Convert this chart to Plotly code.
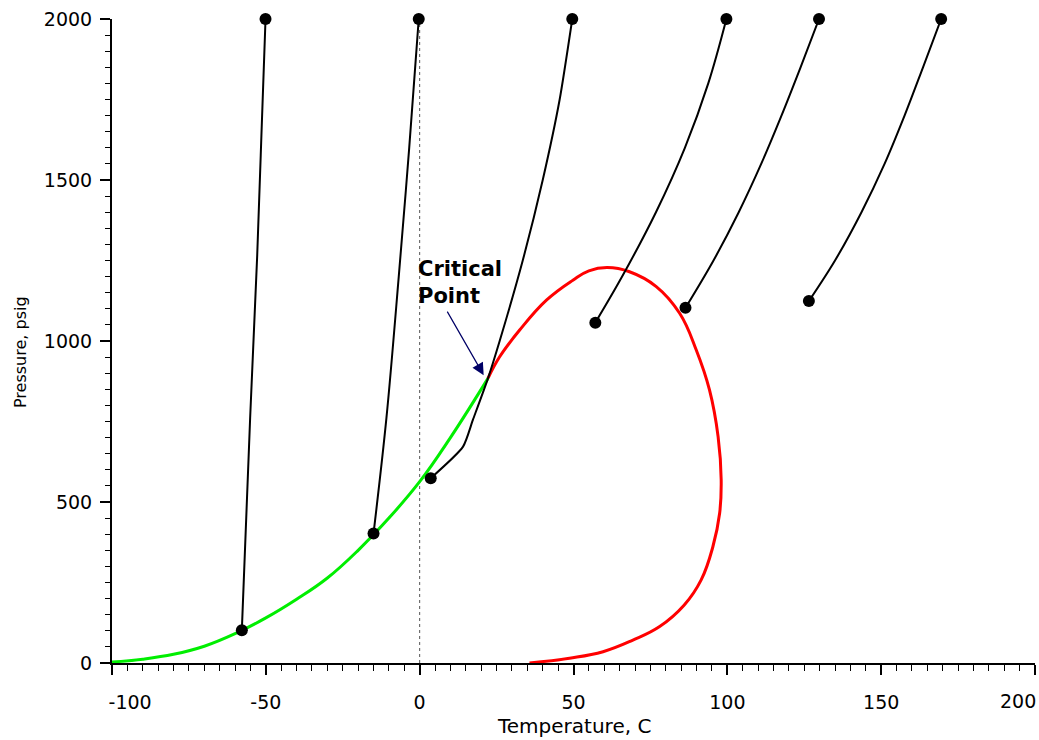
import plotly.graph_objects as go

# ---- data (Temperature C, Pressure psig) ----
bubble_T = [-100, -90, -80, -70, -60, -50, -40, -30, -20, -10, 0, 10, 22.2]
bubble_P = [3, 12, 27, 52, 91, 140, 198, 264, 350, 450, 563, 700, 884]

dew_T = [22.2, 26, 32.5, 41.2, 49.8, 55, 61.0, 68.2, 76.9, 84.5, 89.9, 94.2, 97.0,
         98.0, 97.5, 95.3, 91.5, 86.0, 78.0, 69.3, 59.6, 48.7, 35.7]
dew_P = [884, 951, 1034, 1127, 1189, 1218, 1228, 1215, 1169, 1086, 972, 848, 703,
         568, 465, 361, 258, 180, 113, 71, 35, 15, 0]

line1_T = [-57.8, -55.1, -52.8, -51.4, -50.1]
line1_P = [102, 761, 1267, 1649, 2000]
line2_T = [-15.0, -10.8, -6.8, -3.4, -0.3]
line2_P = [402, 761, 1200, 1600, 2000]
line3_T = [3.6, 14.1, 17.3, 22.2, 26.0, 33.5, 40.0, 45.5, 49.6]
line3_P = [574, 672, 755, 884, 1000, 1250, 1500, 1750, 2000]
line4_T = [57.1, 65.8, 76.8, 86.2, 93.8, 99.7]
line4_P = [1057, 1200, 1400, 1600, 1800, 2000]
line5_T = [86.4, 95.5, 103.7, 111.0, 117.6, 123.8, 129.8]
line5_P = [1103, 1250, 1400, 1550, 1700, 1850, 2000]
line6_T = [126.5, 135.0, 143.6, 151.1, 157.6, 163.6, 169.5]
line6_P = [1124, 1250, 1400, 1550, 1700, 1850, 2000]

x_tick_vals = [-100, -50, 0, 50, 100, 150, 200]
x_tick_text = ["-100", "-50", "0", "50", "100", "150", "200"]
y_tick_vals = [0, 500, 1000, 1500, 2000]
y_tick_text = ["0", "500", "1000", "1500", "2000"]

critical_T, critical_P = 20.8, 894
label_T, label_P = 8.7, 1096

FONT = "DejaVu Sans"
NB = "\u00a0"

fig = go.Figure()

# dotted zero line
fig.add_shape(type="line", x0=0, x1=0, y0=0, y1=2000, xref="x", yref="y",
              line=dict(color="#555555", width=1, dash="dot"), layer="below")

fig.add_trace(go.Scatter(x=bubble_T, y=bubble_P, mode="lines",
                         line=dict(color="#00EE00", width=3, shape="spline", smoothing=1.2),
                         cliponaxis=False, showlegend=False))
fig.add_trace(go.Scatter(x=dew_T, y=dew_P, mode="lines",
                         line=dict(color="#FF0000", width=3, shape="spline", smoothing=1.2),
                         cliponaxis=False, showlegend=False))

black_lines = [(line1_T, line1_P, 1.0), (line2_T, line2_P, 1.0),
               (line3_T, line3_P, 0.6), (line4_T, line4_P, 1.0),
               (line5_T, line5_P, 1.0), (line6_T, line6_P, 1.0)]
for T, P, sm in black_lines:
    fig.add_trace(go.Scatter(x=T, y=P, mode="lines",
                             line=dict(color="black", width=2, shape="spline", smoothing=sm),
                             cliponaxis=False, showlegend=False))
    fig.add_trace(go.Scatter(x=[T[0], T[-1]], y=[P[0], P[-1]], mode="markers",
                             marker=dict(color="black", size=12),
                             cliponaxis=False, showlegend=False))

# Critical point annotation
fig.add_annotation(x=critical_T, y=critical_P, ax=label_T, ay=label_P,
                   xref="x", yref="y", axref="x", ayref="y", text="",
                   showarrow=True, arrowhead=2, arrowsize=2, arrowwidth=1.2,
                   arrowcolor="#000066")
fig.add_annotation(x=-1.3, y=1267, xref="x", yref="y", text="Critical<br>Point",
                   showarrow=False, xanchor="left", yanchor="top", align="left",
                   font=dict(family=FONT, size=21, color="black", weight="bold"))

# axis titles as annotations
fig.add_annotation(x=0, y=0.5, xref="paper", yref="paper", text="Pressure, psig",
                   textangle=-90, showarrow=False, xanchor="center", yanchor="middle",
                   xshift=-92, yshift=-11,
                   font=dict(family=FONT, size=16, color="black"))
fig.add_annotation(x=0.5, y=0, xref="paper", yref="paper", text="Temperature, C",
                   showarrow=False, xanchor="center", yanchor="bottom", yshift=-77,
                   font=dict(family=FONT, size=20, color="black"))

axis_common = dict(showgrid=False, zeroline=False, showline=True, linecolor="black",
                   linewidth=2, ticks="outside", ticklen=10, tickwidth=1.5,
                   tickcolor="black", automargin=False,
                   tickfont=dict(family=FONT, size=19, color="black"))

# end labels sit inward like the original
x_text_disp = list(x_tick_text)
x_text_disp[0] = NB * 6 + x_text_disp[0]
x_text_disp[-1] = ""
fig.add_annotation(x=x_tick_vals[-1], y=0, xref="x", yref="paper", text=x_tick_text[-1],
                   showarrow=False, xanchor="right", yanchor="middle", xshift=3, yshift=-38,
                   font=dict(family=FONT, size=19, color="black"))

fig.update_xaxes(range=[-100, 200], tickvals=x_tick_vals, ticktext=x_text_disp,
                 ticklabelstandoff=11, ticklabeloverflow="allow",
                 minor=dict(dtick=5, ticks="outside", ticklen=6, tickcolor="black",
                            tickwidth=1),
                 **axis_common)
fig.update_yaxes(range=[0, 2000], tickvals=y_tick_vals, ticktext=y_tick_text,
                 ticklabelstandoff=4,
                 minor=dict(dtick=50, tick0=0, ticks="outside", ticklen=5,
                            tickcolor="black", tickwidth=1),
                 **axis_common)

fig.update_layout(width=1039, height=740, margin=dict(l=112, r=4, t=19, b=77),
                  plot_bgcolor="white", paper_bgcolor="white", showlegend=False,
                  font=dict(family=FONT, color="black"))

fig.write_html("out.html")
